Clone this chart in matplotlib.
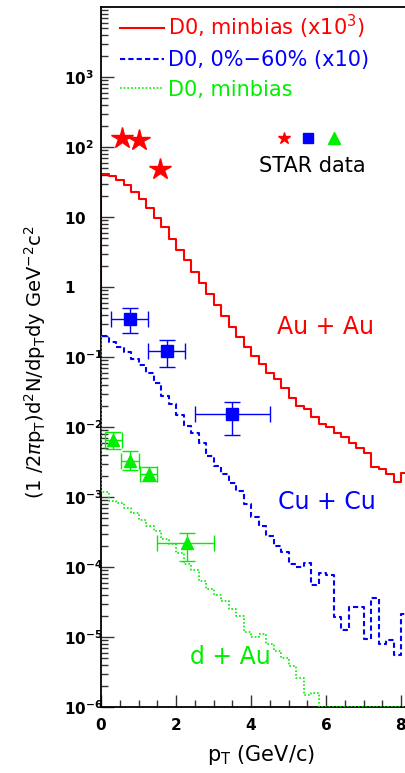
import numpy as np
import matplotlib.pyplot as plt
from matplotlib.ticker import LogLocator, MultipleLocator, NullFormatter

plt.rcParams['font.family'] = ['DejaVu Sans']
plt.rcParams['mathtext.fontset'] = 'dejavusans'

# histogram bins in pT (GeV/c)
edges = np.round(np.arange(0, 8.21, 0.2), 1)

# D0 minbias Au+Au (x10^3)
auau = [41.7, 38.9, 33.9, 28.2, 22.9, 18.2, 13.5, 9.8, 7.1, 4.9,
        3.4, 2.4, 1.66, 1.15, 0.79, 0.55, 0.39, 0.27, 0.19, 0.138,
        0.105, 0.079, 0.060, 0.048, 0.036, 0.026, 0.020, 0.018, 0.0138, 0.0112,
        0.0100, 0.0081, 0.0072, 0.0060, 0.0050, 0.0042, 0.0027, 0.0025, 0.0021, 0.00166,
        0.0022]
# D0 0-60% Cu+Cu (x10)
cucu = [0.200, 0.166, 0.141, 0.117, 0.093, 0.076, 0.060, 0.042, 0.028, 0.021,
        0.0148, 0.0105, 0.0083, 0.0060, 0.0038, 0.0028, 0.0021, 0.00158, 0.0012, 7.9e-4,
        5.2e-4, 3.8e-4, 2.8e-4, 2.0e-4, 1.66e-4, 1.12e-4, 1.0e-4, 1.15e-4, 5.6e-5, 8.3e-5,
        7.6e-5, 1.95e-5, 1.26e-5, 2.7e-5, 2.7e-5, 9.5e-6, 3.6e-5, 7.9e-6, 9.1e-6, 5.6e-6,
        2.1e-5]
# D0 minbias d+Au
dau = [1.17e-3, 8.9e-4, 8.1e-4, 6.9e-4, 6.0e-4, 4.7e-4, 3.8e-4, 3.3e-4, 2.5e-4, 2.1e-4,
       1.58e-4, 1.12e-4, 9.1e-5, 6.3e-5, 4.8e-5, 4.0e-5, 3.3e-5, 2.5e-5, 2.0e-5, 1.17e-5,
       1.0e-5, 1.12e-5, 7.9e-6, 6.3e-6, 5.0e-6, 3.8e-6, 2.6e-6, 1.5e-6, 1.6e-6, 1e-6,
       1e-6, 1e-6, 1e-6, 1e-6, 1e-6, 1e-6, 1e-6, 1e-6, 1e-6, 1e-6,
       1e-6]
start_vals = [1.0, 1.0, 0.2]

# STAR data
star_auau_x = [0.55, 1.02, 1.57]
star_auau_y = [133, 126, 48]

star_cucu_x = [0.76, 1.75, 3.5]
star_cucu_y = [0.35, 0.12, 0.0152]
star_cucu_xerr = [0.5, 0.5, 1.0]
star_cucu_ylo = [0.22, 0.071, 0.0077]
star_cucu_yhi = [0.50, 0.174, 0.0224]

star_dau_x = [0.33, 0.77, 1.28, 2.28]
star_dau_y = [6.6e-3, 3.3e-3, 2.1e-3, 2.2e-4]
star_dau_xlo = [0.10, 0.53, 1.05, 1.50]
star_dau_xhi = [0.55, 1.00, 1.50, 3.00]
star_dau_ylo = [4.9e-3, 2.4e-3, 1.7e-3, 1.23e-4]
star_dau_yhi = [8.5e-3, 4.5e-3, 2.7e-3, 3.1e-4]

ytick_vals = [1e-6, 1e-5, 1e-4, 1e-3, 1e-2, 1e-1, 1, 10, 100, 1000]
ytick_labels = [r'$\mathbf{10^{-6}}$', r'$\mathbf{10^{-5}}$', r'$\mathbf{10^{-4}}$',
                r'$\mathbf{10^{-3}}$', r'$\mathbf{10^{-2}}$', r'$\mathbf{10^{-1}}$',
                r'$\mathbf{1}$', r'$\mathbf{10}$', r'$\mathbf{10^{2}}$', r'$\mathbf{10^{3}}$']
xtick_vals = [0, 2, 4, 6, 8]

RED, BLUE, GREEN = '#ff0000', '#0000ff', '#00ee00'

fig = plt.figure(figsize=(4.05, 7.73), dpi=100)
ax = fig.add_axes([101 / 405, 66 / 773, 307.5 / 405, 700 / 773])


def hist_line(vals, start):
    x = np.r_[0, edges]
    y = np.r_[start, vals, vals[-1]]
    return x, y


x, y = hist_line(auau, start_vals[0])
ax.plot(x, y, drawstyle='steps-post', color=RED, lw=1.5,
        label=r'D0, minbias (x10$^{3}$)')
x, y = hist_line(cucu, start_vals[1])
ax.plot(x, y, drawstyle='steps-post', color=BLUE, lw=1.5, dashes=(2.5, 1.5),
        label='D0, 0%\u221260% (x10)')
x, y = hist_line(dau, start_vals[2])
ax.plot(x, y, drawstyle='steps-post', color=GREEN, lw=1.2, dashes=(1, 1.2),
        label='D0, minbias', zorder=3)

ax.plot(star_auau_x, star_auau_y, ls='none', marker='*', ms=16, color=RED, mec=RED)

cu_y = np.array(star_cucu_y)
ax.errorbar(star_cucu_x, cu_y, xerr=star_cucu_xerr,
            yerr=[cu_y - np.array(star_cucu_ylo), np.array(star_cucu_yhi) - cu_y],
            fmt='s', ms=9, color=BLUE, elinewidth=1, capsize=6, capthick=1)

d_x = np.array(star_dau_x)
d_y = np.array(star_dau_y)
ax.errorbar(d_x, d_y, xerr=[d_x - np.array(star_dau_xlo), np.array(star_dau_xhi) - d_x],
            yerr=[d_y - np.array(star_dau_ylo), np.array(star_dau_yhi) - d_y],
            fmt='^', ms=9, color=GREEN, elinewidth=1, capsize=6, capthick=1)

ax.set_yscale('log')
ax.set_xlim(0, 8.2)
ax.set_ylim(1e-6, 1e4)

ax.set_yticks(ytick_vals)
ax.set_yticklabels(ytick_labels)
ax.yaxis.set_minor_locator(LogLocator(base=10, subs=np.arange(2, 10), numticks=30))
ax.yaxis.set_minor_formatter(NullFormatter())
ax.set_xticks(xtick_vals)
ax.set_xticklabels([r'$\mathbf{%d}$' % v for v in xtick_vals])
ax.xaxis.set_minor_locator(MultipleLocator(0.5))

ax.tick_params(which='both', direction='in', color='#333333', width=1)
ax.tick_params(which='major', length=9)
ax.tick_params(which='minor', length=5)
ax.tick_params(axis='y', which='major', pad=27, labelsize=11)
ax.tick_params(axis='x', which='major', pad=7, labelsize=11)
for lbl in ax.get_yticklabels():
    lbl.set_ha('left')
ax.tick_params(right=False, top=False)
ax.spines['right'].set_visible(False)
for s in ['left', 'bottom', 'top']:
    ax.spines[s].set_linewidth(1.3)

ax.set_xlabel(r'p$_{\rm T}$ (GeV/c)', fontsize=15)
ax.xaxis.set_label_coords(0.52, -0.052)
ax.set_ylabel(r'(1 /2$\pi$p$_{\rm T}$)d$^{2}$N/dp$_{\rm T}$dy GeV$^{-2}$c$^{2}$', fontsize=14)
ax.yaxis.set_label_coords(-0.172, 0.493)

ax.legend(loc='upper left', bbox_to_anchor=(0.062, 0.992), frameon=False,
          handlelength=2.1, handletextpad=0.2, labelspacing=0.45,
          borderpad=0, borderaxespad=0, fontsize=15, labelcolor='linecolor')

# STAR data key
ax.plot(0.595, 0.813, marker='*', ms=9, color=RED, transform=ax.transAxes, clip_on=False)
ax.plot(0.673, 0.813, marker='s', ms=7.5, color=BLUE, transform=ax.transAxes)
ax.plot(0.758, 0.813, marker='^', ms=8, color=GREEN, transform=ax.transAxes)
ax.text(0.686, 0.773, 'STAR data', transform=ax.transAxes, ha='center', va='center',
        fontsize=15, color='black')

ax.text(4.69, 0.27, 'Au + Au', color=RED, fontsize=17, ha='left', va='center')
ax.text(4.72, 8.5e-4, 'Cu + Cu', color=BLUE, fontsize=17, ha='left', va='center')
ax.text(2.37, 5.2e-6, 'd + Au', color=GREEN, fontsize=17, ha='left', va='center')

fig.savefig('out.png', dpi=100)
